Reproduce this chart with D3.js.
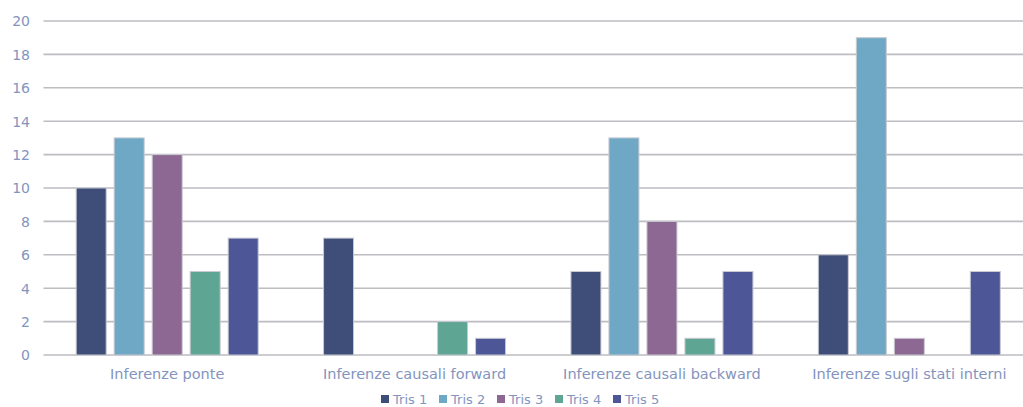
<!DOCTYPE html>
<html><head><meta charset="utf-8">
<script src="https://cdn.jsdelivr.net/npm/d3@7"></script>
<style>body{margin:0;background:#fff}svg{display:block}</style>
</head><body>
<svg id="c" width="1023" height="407"></svg>
<script>
const categories = ["Inferenze ponte","Inferenze causali forward","Inferenze causali backward","Inferenze sugli stati interni"];
const seriesNames = ["Tris 1","Tris 2","Tris 3","Tris 4","Tris 5"];
const tris1 = [10, 7, 5, 6];
const tris2 = [13, 0, 13, 19];
const tris3 = [12, 0, 8, 1];
const tris4 = [5, 2, 1, 0];
const tris5 = [7, 1, 5, 5];
const yTicks = [0,2,4,6,8,10,12,14,16,18,20];
const colors = ["#3F4E78","#6FA8C4","#8D6892","#5FA594","#4D5798"];
const seriesValues = [tris1, tris2, tris3, tris4, tris5];

(function(){
const svg = d3.select("#c");
const font = "'Century Gothic','URW Gothic','DejaVu Sans',sans-serif";
const textColor = "#8394BE";
const mLeft = 43.5, mRight = 1033, mTop = 21, mBottom = 355;

const x = d3.scaleBand().domain(categories).range([mLeft, mRight]).paddingInner(0).paddingOuter(0);
const xs = d3.scaleBand().domain(seriesNames).range([0, x.bandwidth()]).paddingInner(8/38).paddingOuter(0.86);
const y = d3.scaleLinear().domain([0, 20]).range([mBottom, mTop]);

svg.append("g").selectAll("line").data(yTicks).join("line")
  .attr("x1", mLeft).attr("x2", mRight)
  .attr("y1", d => y(d)).attr("y2", d => y(d))
  .attr("stroke", "#BDBDC2").attr("stroke-width", 1.6);

const yAxis = d3.axisLeft(y).tickValues(yTicks).tickSize(0).tickPadding(0);
const yg = svg.append("g").attr("transform", `translate(30,0)`).call(yAxis);
yg.select(".domain").remove();
yg.selectAll("text").attr("fill", textColor).style("font-family", font).style("font-size", "14px").attr("dy","0.35em");

const groups = svg.append("g").selectAll("g").data(seriesNames).join("g")
  .attr("fill", (d,i) => colors[i]);
groups.selectAll("rect").data((s,i) => categories.map((c,j) => ({c, s, v: seriesValues[i][j]})).filter(d => d.v > 0))
  .join("rect")
  .attr("x", d => x(d.c) + xs(d.s))
  .attr("width", xs.bandwidth())
  .attr("y", d => y(d.v))
  .attr("height", d => y(0) - y(d.v))
  .attr("stroke", "#C8CAD2").attr("stroke-width", 1);

const xAxis = d3.axisBottom(x).tickSize(0).tickPadding(0);
const xg = svg.append("g").attr("transform", `translate(0,${mBottom + 14})`).call(xAxis);
xg.select(".domain").remove();
xg.selectAll("text").attr("fill", textColor).style("font-family", font).style("font-size", "14.5px");

const legendX = [381, 439, 497, 555, 613];
const lg = svg.append("g").selectAll("g").data(seriesNames).join("g")
  .attr("transform", (d,i) => `translate(${legendX[i]},399)`);
lg.append("rect").attr("x", 0).attr("y", -4).attr("width", 8).attr("height", 8).attr("fill", (d,i) => colors[i]);
lg.append("text").attr("x", 12).attr("y", 0).attr("dy","0.35em").text(d => d)
  .attr("fill", textColor).style("font-family", font).style("font-size", "13px");
})();
</script>
</body></html>
